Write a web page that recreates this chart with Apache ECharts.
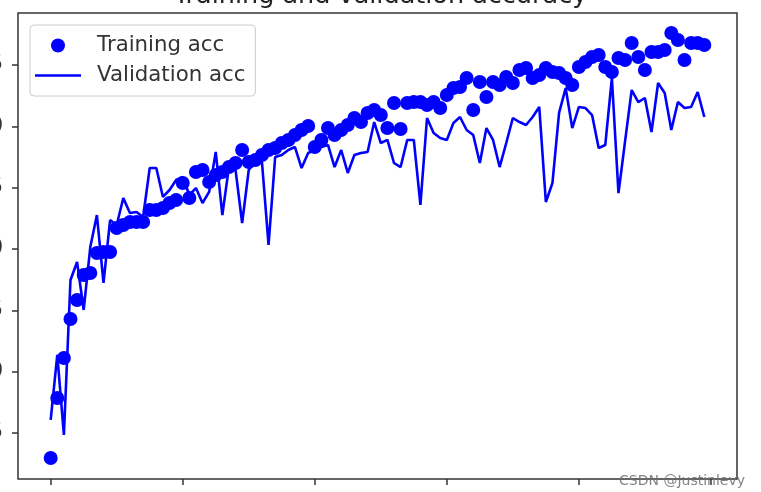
<!DOCTYPE html>
<html>
<head>
<meta charset="utf-8">
<script src="https://cdn.jsdelivr.net/npm/echarts@6/dist/echarts.min.js"></script>
<style>
html,body{margin:0;padding:0;background:#fff;}
#chart{width:761px;height:492px;}
</style>
</head>
<body>
<div id="chart"></div>
<script>
const trainAcc = [
0.6296,0.6785,0.7111,0.7429,0.7584,0.7788,0.7804,0.7967,0.7975,0.7975,
0.8171,0.8196,0.8220,0.8220,0.8220,0.8318,0.8318,0.8334,0.8375,0.8399,
0.8538,0.8416,0.8628,0.8644,0.8546,0.8603,0.8628,0.8668,0.8701,0.8807,
0.8709,0.8726,0.8766,0.8807,0.8823,0.8864,0.8889,0.8929,0.8970,0.9003,
0.8831,0.8889,0.8986,0.8929,0.8970,0.9011,0.9068,0.9035,0.9109,0.9133,
0.9092,0.8986,0.9190,0.8978,0.9190,0.9198,0.9198,0.9174,0.9198,0.9149,
0.9255,0.9312,0.9321,0.9394,0.9133,0.9361,0.9239,0.9361,0.9337,0.9402,
0.9353,0.9459,0.9476,0.9394,0.9418,0.9476,0.9443,0.9435,0.9394,0.9337,
0.9484,0.9524,0.9565,0.9582,0.9484,0.9443,0.9557,0.9541,0.9679,0.9565,
0.9459,0.9606,0.9606,0.9622,0.9761,0.9704,0.9541,0.9679,0.9679,0.9663
];
const valAcc = [
0.6606,0.7136,0.6484,0.7747,0.7894,0.7503,0.8016,0.8277,0.7723,0.8236,
0.8196,0.8416,0.8293,0.8302,0.8261,0.8660,0.8660,0.8424,0.8481,0.8562,
0.8587,0.8440,0.8497,0.8375,0.8465,0.8791,0.8277,0.8668,0.8644,0.8212,
0.8644,0.8726,0.8709,0.8033,0.8750,0.8766,0.8807,0.8831,0.8660,0.8783,
0.8807,0.8831,0.8848,0.8668,0.8807,0.8620,0.8766,0.8783,0.8791,0.9035,
0.8864,0.8889,0.8701,0.8668,0.8889,0.8889,0.8359,0.9068,0.8946,0.8905,
0.8889,0.9027,0.9076,0.8970,0.8929,0.8701,0.8986,0.8889,0.8668,0.8864,
0.9068,0.9035,0.9011,0.9076,0.9158,0.8383,0.8538,0.9109,0.9312,0.8986,
0.9158,0.9149,0.9092,0.8823,0.8848,0.9394,0.8456,0.8880,0.9296,0.9198,
0.9231,0.8954,0.9353,0.9272,0.8970,0.9198,0.9149,0.9158,0.9280,0.9076
];
const xTicks = [0, 20, 40, 60, 80, 100];
const yTicks = [0.65, 0.70, 0.75, 0.80, 0.85, 0.90, 0.95];
const titleText = 'Training and validation accuracy';
const seriesNames = ['Training acc', 'Validation acc'];

const chart = echarts.init(document.getElementById('chart'), null, {renderer: 'canvas'});
const fontFam = 'DejaVu Sans';
const lineIcon = 'path://M0,0L0.01,0L0.01,0.01Z M0,5.7H46V8.3H0Z M45.99,13.99L46,14L45.99,14Z';
chart.setOption({
  animation: false,
  backgroundColor: '#fff',
  title: {
    text: titleText,
    left: 'center',
    top: -17,
    padding: 0,
    textStyle: {fontFamily: fontFam, fontSize: 25.5, fontWeight: 'normal', color: '#222'}
  },
  legend: {
    orient: 'vertical',
    left: 30,
    top: 25,
    padding: [10, 10, 10, 5],
    itemWidth: 46,
    itemHeight: 14,
    itemGap: 9,
    borderColor: '#cccccc',
    borderWidth: 1,
    borderRadius: 4,
    backgroundColor: 'rgba(255,255,255,0.8)',
    textStyle: {fontFamily: fontFam, fontSize: 21.3, color: '#333', padding: [0, 0, 0, 11]},
    data: [
      {name: seriesNames[0], icon: 'circle'},
      {name: seriesNames[1], icon: lineIcon, itemStyle: {color: '#0000ff'}}
    ]
  },
  grid: {
    left: 18, top: 13, right: 24, bottom: 13,
    outerBoundsMode: 'none',
    containLabel: false,
    show: true, borderColor: '#333', borderWidth: 1.5, backgroundColor: '#fff'
  },
  xAxis: {
    type: 'value',
    min: -4.95, max: 103.95,
    axisLine: {show: false, onZero: false},
    splitLine: {show: false},
    axisTick: {show: true, length: 6, lineStyle: {color: '#333', width: 1.5}, customValues: xTicks},
    axisLabel: {show: false, customValues: xTicks}
  },
  yAxis: {
    type: 'value',
    min: 0.61248, max: 0.99239,
    axisLine: {show: false, onZero: false},
    splitLine: {show: false},
    axisTick: {show: true, length: 6, lineStyle: {color: '#333', width: 1.5}, customValues: yTicks},
    axisLabel: {
      show: true, customValues: yTicks, margin: 15,
      fontFamily: fontFam, fontSize: 21, color: '#333',
      formatter: v => v.toFixed(2)
    }
  },
  series: [
    {
      name: seriesNames[0],
      type: 'scatter',
      symbol: 'circle',
      symbolSize: 14,
      itemStyle: {color: '#0000ff', opacity: 1},
      data: trainAcc.map((v, i) => [i, v])
    },
    {
      name: seriesNames[1],
      type: 'line',
      symbol: 'none',
      showSymbol: false,
      lineStyle: {color: '#0000ff', width: 2.6},
      itemStyle: {color: '#0000ff'},
      data: valAcc.map((v, i) => [i, v])
    }
  ],
  graphic: [{
    type: 'text',
    right: 16,
    bottom: 4,
    style: {text: 'CSDN @Justinlevy', font: '14px "DejaVu Sans"', fill: 'rgba(110,110,110,0.85)'}
  }]
});
</script>
</body>
</html>
